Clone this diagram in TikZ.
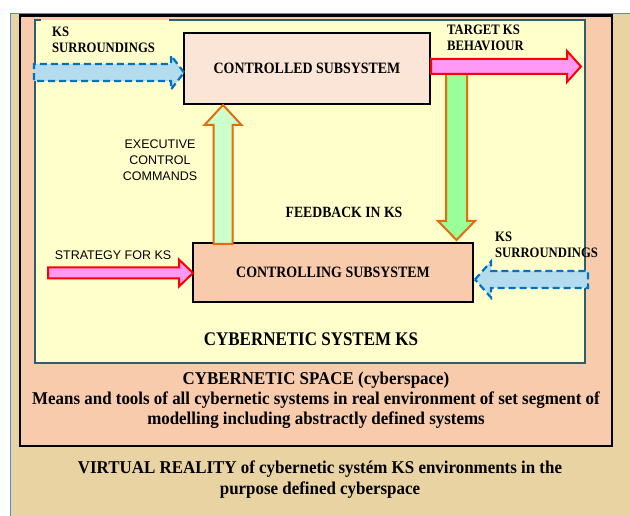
\documentclass[tikz,border=0pt]{standalone}
\usepackage{fontspec}
\setmainfont{Liberation Serif}
\setsansfont{Liberation Sans}
\newfontfamily\labelserif{Liberation Serif}[FakeStretch=0.88]
\newfontfamily\captionserif{Liberation Serif}[FakeStretch=0.94]
\usetikzlibrary{calc}
\definecolor{parchment}{HTML}{E9D3A2}
\definecolor{frameblue}{HTML}{4A8FD0}
\definecolor{salmon}{HTML}{F8CBAD}
\definecolor{paleyellow}{HTML}{FFFFCC}
\definecolor{tealframe}{HTML}{2F5D6E}
\definecolor{blush}{HTML}{FBE5D6}
\definecolor{dashblue}{HTML}{0070C0}
\definecolor{skyfill}{HTML}{B3DCEE}
\definecolor{pinkfill}{HTML}{FF99F5}
\definecolor{orangeline}{HTML}{E46C0A}
\definecolor{greenfill}{HTML}{99FF99}
\definecolor{mintfill}{HTML}{CCFFCC}
\begin{document}
\begin{tikzpicture}[x=1pt,y=-1pt,
  subsys/.style={draw=black,line width=2pt,inner sep=0pt,
    font=\labelserif\fontsize{15.8}{18}\selectfont\bfseries},
  seriflbl/.style={font=\labelserif\fontsize{#1}{16}\selectfont\bfseries,inner sep=0pt,align=left},
  seriflbl/.default=14.4,
  sanslbl/.style={font=\sffamily\fontsize{12.5}{16}\selectfont,inner sep=0pt,align=center},
  titlelbl/.style={font=\labelserif\fontsize{19.3}{22}\selectfont\bfseries,inner sep=0pt},
  captionlbl/.style={font=\captionserif\fontsize{18}{#1}\selectfont\bfseries,inner sep=0pt,align=center},
  surround/.style={draw=dashblue,fill=skyfill,line width=2.2pt,dash pattern=on 7pt off 4pt,line join=miter},
  pinkarrow/.style={draw=red,fill=pinkfill,line width=2pt,line join=miter},
  feedarrow/.style={draw=orangeline,fill=greenfill,line width=2pt,line join=miter},
  execarrow/.style={draw=orangeline,fill=mintfill,line width=2pt,line join=miter}]
\useasboundingbox (0,0) rectangle (630,516);
\fill[white] (0,0) rectangle (630,516);

% virtual reality background
\fill[parchment] (10,13) rectangle (630,516);
\draw[frameblue,line width=1.6pt] (10.5,516) -- (10.5,13.5) -- (630,13.5);

% cybernetic space
\draw[black,fill=salmon,line width=2.5pt] (20,15.5) rectangle (612,446);

% cybernetic system KS
\fill[paleyellow] (35,20) rectangle (585,363);
\draw[tealframe,line width=1.6pt] (41,20) -- (35,20) -- (35,363) -- (585,363) -- (585,20) -- (169,20);

% subsystems
\node[subsys,fill=blush,minimum width=246pt,minimum height=71pt] (controlled) at (307,68.5) {CONTROLLED SUBSYSTEM};
\node[subsys,fill=salmon,minimum width=280pt,minimum height=59pt] (controlling) at (333,272.5) {CONTROLLING SUBSYSTEM};

% KS surroundings into the controlled subsystem
\coordinate (t1) at ($(controlled.west)+(1,4)$);
\draw[surround] (t1) -- ++(-13,-17) -- ++(0,8.5) -- ++(-137,0) -- ++(0,17) -- ++(137,0) -- ++(0,8.5) -- cycle;

% feedback
\coordinate (t3) at ($(controlling.north east)+(-17.5,-2)$);
\draw[feedarrow] (t3) -- ++(-18.5,-19) -- ++(8,0) -- ++(0,-149) -- ++(21,0) -- ++(0,149) -- ++(8,0) -- cycle;

% target behaviour
\coordinate (t2) at ($(controlled.east)+(150,-2)$);
\draw[pinkarrow] (t2) -- ++(-14,-15.5) -- ++(0,8) -- ++(-136,0) -- ++(0,15) -- ++(136,0) -- ++(0,8) -- cycle;

% executive control commands
\coordinate (t4) at ($(controlled.south west)+(40,0)$);
\draw[execarrow] (t4) -- ++(-18.5,20) -- ++(9,0) -- ++(0,119) -- ++(19,0) -- ++(0,-119) -- ++(9,0) -- cycle;

% strategy
\coordinate (t5) at ($(controlling.west)+(1,0.5)$);
\draw[pinkarrow] (t5) -- ++(-14,-13.5) -- ++(0,8) -- ++(-131,0) -- ++(0,11) -- ++(131,0) -- ++(0,8) -- cycle;

% KS surroundings into the controlling subsystem
\coordinate (t6) at ($(controlling.east)+(1,7)$);
\draw[surround] (t6) -- ++(16,-18) -- ++(0,9.5) -- ++(97,0) -- ++(0,17) -- ++(-97,0) -- ++(0,9.5) -- cycle;

% labels
\node[seriflbl,anchor=north west] (surrA) at (52,27) {KS\\SURROUNDINGS};
\node[seriflbl,anchor=north west] (target) at (447,25) {TARGET KS\\BEHAVIOUR};
\node[sanslbl,anchor=north] (exec) at (160,140) {EXECUTIVE\\CONTROL\\COMMANDS};
\node[seriflbl=15.6,anchor=base] (feedback) at (344,218) {FEEDBACK IN KS};
\node[sanslbl,anchor=base] (strategy) at (113,259) {STRATEGY FOR KS};
\node[seriflbl,anchor=north west] (surrB) at (495,232) {KS\\SURROUNDINGS};

\node[titlelbl,anchor=base] (system) at (311,345) {CYBERNETIC SYSTEM KS};
\node[captionlbl=19.8,anchor=north] (space) at (316,372) {CYBERNETIC SPACE (cyberspace)\\Means and tools of all cybernetic systems in real environment of set segment of\\modelling including abstractly defined systems};
\node[captionlbl=21,anchor=north] (virtual) at (320,461) {VIRTUAL REALITY of cybernetic systém KS environments in the\\purpose defined cyberspace};
\end{tikzpicture}
\end{document}
